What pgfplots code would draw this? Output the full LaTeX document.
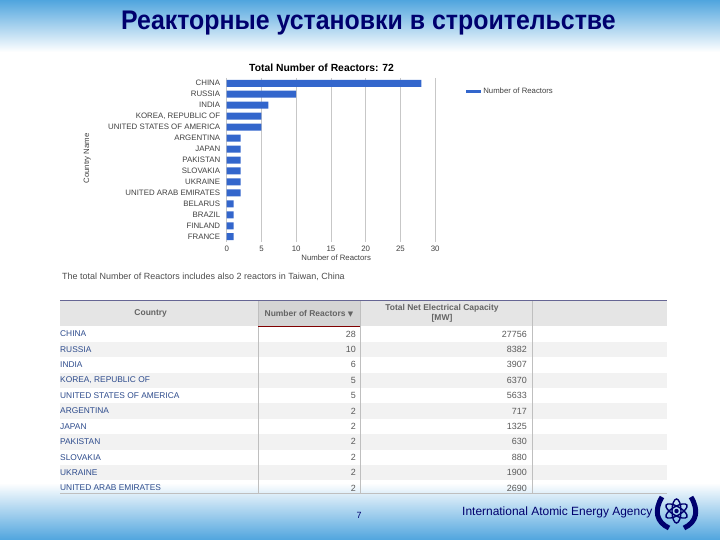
\documentclass[border=0pt]{standalone}
\usepackage{fontspec}
\setmainfont{Liberation Sans}
\newfontfamily\symfont{DejaVu Sans}
\usepackage{pgfplots}
\usepackage{pgfplotstable}
\pgfplotsset{compat=1.18}
\definecolor{skyblue}{RGB}{80,165,222}
\definecolor{navy}{RGB}{0,0,110}
\definecolor{barblue}{RGB}{51,102,204}
\definecolor{linkblue}{RGB}{45,75,140}
\definecolor{headgray}{RGB}{100,100,100}

\pgfplotstableread{
idx reactors
0 28
1 10
2 6
3 5
4 5
5 2
6 2
7 2
8 2
9 2
10 2
11 1
12 1
13 1
14 1
}\reactors

\begin{document}
\begin{tikzpicture}[x=1bp,y=-1bp]
\useasboundingbox (0,0) rectangle (720,540);

% slide background
\shade[top color=skyblue,bottom color=white] (0,0) rectangle (720,52);
\shade[top color=white,bottom color=skyblue] (0,483) rectangle (720,540);
\node[font=\bfseries\fontsize{27}{29}\selectfont,text=navy,xscale=0.925,inner sep=0] at (368.5,23) {Реакторные установки в строительстве};

% chart
\begin{axis}[
    at={(226.7bp,-242.2bp)},
    anchor=south west,
    scale only axis,
    width=208.5bp,
    height=164.4bp,
    xbar,
    bar width=7bp,
    xmin=0, xmax=30,
    ymin=-0.5, ymax=14.5,
    y dir=reverse,
    xtick={0,5,...,30},
    ytick=data,
    yticklabels={CHINA,RUSSIA,INDIA,{KOREA, REPUBLIC OF},UNITED STATES OF AMERICA,ARGENTINA,JAPAN,PAKISTAN,SLOVAKIA,UKRAINE,UNITED ARAB EMIRATES,BELARUS,BRAZIL,FINLAND,FRANCE},
    axis line style={draw=none},
    major tick length=0pt,
    xmajorgrids,
    grid style={draw=black!22,line width=0.7pt},
    tick label style={font=\fontsize{7.9}{9}\selectfont,text=black!75},
    /pgf/number format/assume math mode=true,
    xticklabel style={yshift=0bp},
    yticklabel style={xshift=-3bp},
    title={\textbf{Total Number of Reactors: 72}},
    title style={font=\fontsize{10.4}{12}\selectfont,at={(0.455,1)},yshift=-3bp},
    xlabel={Number of Reactors},
    xlabel style={font=\fontsize{7.8}{9}\selectfont,text=black!75,at={(0.525,0)},yshift=-9bp},
    ylabel={Country Name},
    ylabel style={font=\fontsize{7.8}{9}\selectfont,text=black!75,at={(-0.635,0.51)}},
    legend style={at={(1.134,0.918)},anchor=west,draw=none,fill=none,font=\fontsize{7.8}{9}\selectfont,text=black!75},
    legend image code/.code={\fill[barblue] (-6bp,-1.5bp) rectangle (9bp,1.5bp);},
]
\addplot[fill=barblue,draw=none] table[x=reactors,y=idx] {\reactors};
\addlegendentry{Number of Reactors}
\end{axis}

\node[anchor=west,font=\fontsize{9}{11}\selectfont,text=black!70,inner sep=0] at (62,277) {The total Number of Reactors includes also 2 reactors in Taiwan, China};

% table
\fill[black!10] (60,300) rectangle (667,326);
\fill[black!17] (258,300) rectangle (360,326);
\foreach \i in {1,3,5,7,9}
  \fill[black!5] (60,{326.3+15.4*\i}) rectangle (667,{326.3+15.4*(\i+1)});
\foreach \cx in {258,360,532}
  \draw[black!25,line width=0.7pt] (\cx,300) -- (\cx,493);
\draw[black!25,line width=0.7pt] (60,493.3) -- (667,493.3);
\draw[blue!30!black!60,line width=1pt] (60,300) -- (667,300);
\draw[red!50!black,line width=0.8pt] (258,326) -- (360,326);

\tikzset{head/.style={font=\bfseries\fontsize{8.5}{9.5}\selectfont,text=headgray,inner sep=0,align=center}}
\node[head] at (150.7,313.5) {Country};
\node[head] at (309,313.5) {Number of Reactors {\symfont\fontsize{7}{8}\selectfont▼}};
\node[head] at (442,313.5) {Total Net Electrical Capacity\\{}[MW]};

\foreach \name/\n/\mw [count=\r from 0] in {
    CHINA/28/27756,
    RUSSIA/10/8382,
    INDIA/6/3907,
    {KOREA, REPUBLIC OF}/5/6370,
    UNITED STATES OF AMERICA/5/5633,
    ARGENTINA/2/717,
    JAPAN/2/1325,
    PAKISTAN/2/630,
    SLOVAKIA/2/880,
    UKRAINE/2/1900,
    UNITED ARAB EMIRATES/2/2690} {
  \node[anchor=west,font=\fontsize{8.4}{9}\selectfont,text=linkblue,inner sep=0] at (60,{334+15.4*\r}) {\name};
  \node[anchor=east,font=\fontsize{9}{10}\selectfont,text=black!65,inner sep=0] at (356,{334+15.4*\r}) {\n};
  \node[anchor=east,font=\fontsize{9}{10}\selectfont,text=black!65,inner sep=0] at (527,{334+15.4*\r}) {\mw};
}

% footer
\node[font=\fontsize{9}{11}\selectfont,text=navy,inner sep=0] at (359,515) {7};
\node[anchor=west,font=\fontsize{12}{14}\selectfont,text=navy,inner sep=0] at (462,512) {International Atomic Energy Agency};

% IAEA emblem
\begin{scope}[navy]
  \draw[line width=5pt] (662,497) .. controls (654,510) and (656,522) .. (669,528);
  \draw[line width=5pt] (691,497) .. controls (699,510) and (697,522) .. (684,528);
  \draw[line width=1.4pt] (676.5,511) ellipse (4.5 and 12);
  \draw[line width=1.4pt,rotate around={60:(676.5,511)}] (676.5,511) ellipse (4.5 and 12);
  \draw[line width=1.4pt,rotate around={-60:(676.5,511)}] (676.5,511) ellipse (4.5 and 12);
  \fill (676.5,511) circle (2.2);
\end{scope}
\end{tikzpicture}
\end{document}
